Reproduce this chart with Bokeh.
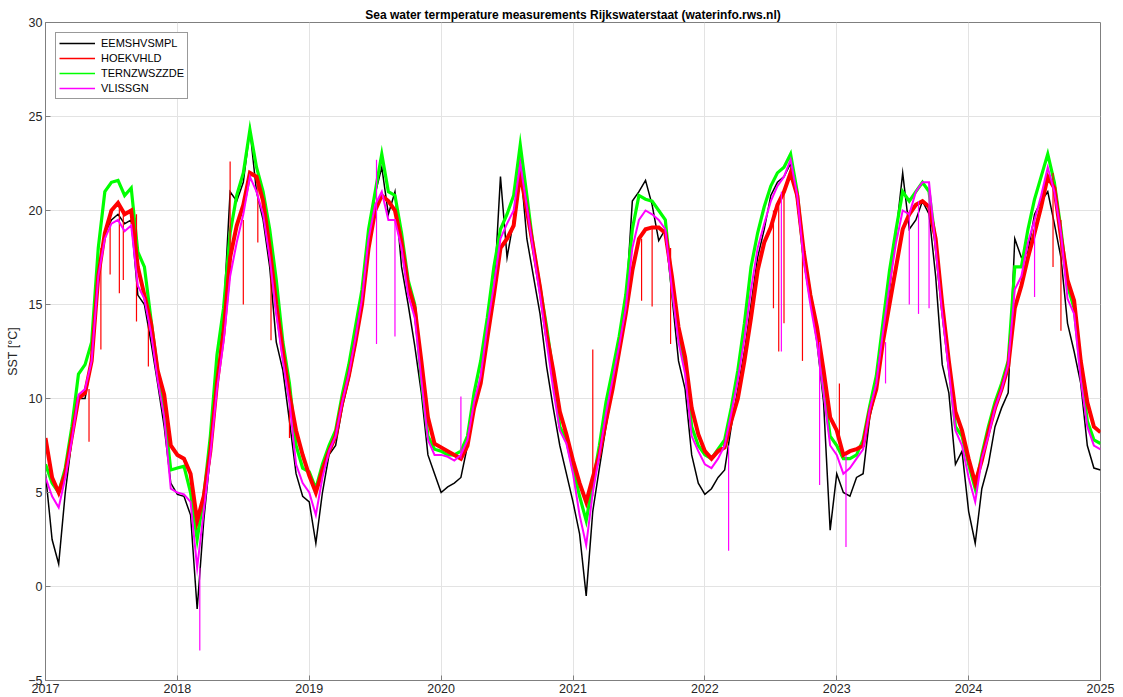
from bokeh.plotting import figure
from bokeh.models import FixedTicker, Legend, LegendItem, Range1d
from bokeh.embed import file_html
from bokeh.resources import INLINE

# ---------------- data ----------------
years = [2017, 2018, 2019, 2020, 2021, 2022, 2023, 2024]
offsets = [0.00, 0.05, 0.10, 0.15, 0.20, 0.25, 0.30, 0.35, 0.40, 0.45,
           0.50, 0.55, 0.60, 0.65, 0.70, 0.75, 0.80, 0.85, 0.90, 0.95]
t_end = 2025.0

eemshvsmpl = [
    6.0, 2.5, 1.2, 5.0, 7.8, 10.0, 10.0, 12.0, 16.5, 18.8, 19.5, 19.8, 19.3, 19.5, 15.5, 15.0, 13.0, 10.8, 8.5, 5.5,
    4.9, 4.8, 3.8, -1.2, 3.5, 7.0, 10.5, 14.5, 21.0, 20.5, 21.5, 24.3, 21.0, 19.5, 17.0, 13.0, 11.5, 8.8, 6.0, 4.8,
    4.5, 2.3, 5.0, 7.0, 7.5, 9.5, 11.0, 12.8, 15.0, 18.5, 20.9, 22.3, 19.8, 21.0, 17.0, 15.0, 12.8, 10.3, 7.0, 6.0,
    5.0, 5.3, 5.5, 5.8, 7.5, 9.5, 10.8, 13.2, 15.5, 21.8, 17.5, 19.5, 22.5, 18.5, 16.5, 14.5, 11.7, 9.5, 7.5, 6.0,
    4.5, 2.8, -0.5, 4.0, 6.3, 8.5, 10.5, 12.5, 15.0, 20.5, 21.0, 21.6, 20.3, 18.4, 19.0, 15.5, 12.0, 10.5, 7.0, 5.5,
    4.9, 5.2, 5.8, 6.2, 8.5, 10.5, 12.5, 15.0, 17.5, 19.0, 20.8, 21.5, 21.8, 22.5, 20.5, 17.5, 15.3, 13.0, 9.8, 3.0,
    6.0, 5.0, 4.8, 5.8, 6.0, 9.0, 10.5, 13.0, 15.8, 18.8, 22.0, 19.0, 19.5, 20.5, 19.8, 16.5, 11.8, 10.3, 6.5, 7.2,
    4.0, 2.3, 5.2, 6.5, 8.5, 9.5, 10.3, 18.5, 17.5, 17.8, 19.8, 20.5, 21.0, 19.3, 17.5, 14.0, 12.5, 10.8, 7.5, 6.3,
    6.2]

hoekvhld = [
    7.9, 5.8, 5.0, 6.0, 8.0, 10.0, 10.3, 12.0, 16.5, 18.8, 20.0, 20.4, 19.8, 20.0, 17.0, 15.5, 14.0, 11.5, 10.2, 7.5,
    7.0, 6.8, 6.0, 3.5, 4.8, 7.2, 10.8, 13.5, 17.5, 19.2, 20.3, 22.0, 21.8, 20.5, 18.0, 15.0, 12.5, 10.2, 8.3, 7.0,
    5.9, 5.0, 6.2, 7.2, 8.0, 9.8, 11.2, 13.0, 15.0, 18.0, 20.0, 20.8, 20.5, 20.0, 18.3, 16.0, 14.8, 12.0, 9.0, 7.6,
    7.4, 7.2, 7.0, 6.8, 7.5, 9.5, 10.8, 13.2, 15.5, 18.0, 18.5, 19.2, 22.0, 20.0, 18.0, 15.9, 13.4, 11.5, 9.3, 8.1,
    6.7, 5.5, 4.5, 5.8, 7.0, 8.8, 10.5, 12.5, 14.5, 16.8, 18.5, 19.0, 19.1, 19.1, 18.8, 16.5, 13.8, 12.2, 9.5, 8.1,
    7.2, 6.8, 7.2, 7.4, 8.8, 10.0, 12.0, 14.3, 16.8, 18.3, 19.1, 20.3, 21.0, 22.0, 20.8, 17.8, 15.5, 13.8, 11.5, 9.0,
    8.3, 7.0, 7.2, 7.3, 7.5, 9.3, 10.5, 13.0, 15.0, 17.0, 19.0, 19.8, 20.3, 20.5, 20.2, 18.5, 15.0, 12.0, 9.3, 8.3,
    6.8, 5.5, 6.7, 8.2, 9.5, 10.5, 11.7, 14.8, 16.0, 17.5, 18.8, 20.2, 21.8, 21.2, 18.6, 16.3, 15.2, 12.0, 9.8, 8.5,
    8.2]

ternzwszzde = [
    6.5, 5.5, 5.0, 6.3, 8.5, 11.3, 11.8, 13.0, 18.0, 21.0, 21.5, 21.6, 20.8, 21.2, 17.8, 17.0, 14.2, 11.5, 9.3, 6.2,
    6.3, 6.4, 5.0, 2.5, 4.8, 8.0, 12.3, 14.8, 18.8, 20.8, 22.0, 24.3, 22.3, 21.0, 19.0, 16.3, 13.0, 10.8, 7.5, 6.3,
    6.1, 5.2, 6.5, 7.5, 8.3, 10.2, 11.8, 13.8, 15.8, 19.0, 21.0, 23.0, 21.0, 20.8, 18.8, 16.3, 15.0, 11.0, 8.0, 7.3,
    7.2, 7.0, 7.0, 7.2, 8.0, 10.3, 12.0, 14.3, 17.0, 19.0, 19.8, 20.8, 23.5, 20.8, 18.0, 15.9, 13.8, 11.3, 8.5, 7.8,
    6.3, 4.8, 3.5, 5.5, 7.5, 9.8, 11.5, 13.3, 15.5, 19.0, 20.8, 20.6, 20.5, 20.0, 19.5, 16.0, 13.5, 11.8, 8.5, 7.5,
    7.0, 6.8, 7.3, 7.8, 9.5, 11.5, 14.0, 17.0, 18.8, 20.2, 21.3, 22.0, 22.3, 23.0, 21.0, 17.5, 15.5, 13.5, 10.5, 8.0,
    7.5, 6.8, 6.8, 7.0, 7.8, 9.6, 11.2, 14.0, 16.8, 19.0, 21.0, 20.5, 21.0, 21.5, 21.0, 18.3, 14.8, 11.8, 8.5, 8.0,
    6.5, 5.2, 7.0, 8.5, 9.8, 10.8, 12.0, 17.0, 17.0, 19.0, 20.6, 21.8, 23.0, 21.5, 19.0, 16.0, 14.8, 11.5, 8.8, 7.8,
    7.6]

vlissgn = [
    5.8, 4.8, 4.2, 5.8, 7.8, 10.2, 10.5, 12.0, 16.5, 18.5, 19.3, 19.5, 18.9, 19.2, 16.0, 15.3, 13.5, 11.0, 9.0, 5.2,
    5.0, 4.9, 4.5, 1.0, 4.0, 7.0, 10.5, 13.0, 16.5, 18.3, 19.8, 21.8, 21.0, 19.8, 17.5, 14.5, 12.0, 9.8, 6.5, 5.5,
    5.0, 3.8, 5.8, 7.2, 8.0, 9.8, 11.3, 13.2, 15.3, 18.5, 20.3, 21.0, 19.5, 19.5, 18.0, 15.5, 14.3, 11.0, 7.8, 7.0,
    7.0, 6.9, 6.7, 7.0, 7.8, 9.8, 11.2, 13.8, 16.0, 18.5, 19.3, 20.0, 22.5, 20.2, 17.8, 15.5, 13.0, 10.5, 8.3, 7.6,
    6.0, 3.8, 2.2, 5.0, 7.0, 9.2, 11.0, 12.8, 14.8, 18.0, 19.5, 20.0, 19.8, 19.5, 19.0, 15.8, 13.0, 11.3, 8.0, 7.2,
    6.5, 6.3, 6.8, 7.5, 9.2, 11.0, 13.2, 15.8, 18.0, 19.3, 20.5, 21.3, 21.8, 22.7, 20.8, 17.3, 15.0, 13.0, 10.3, 7.5,
    7.0, 6.0, 6.3, 6.8, 7.3, 9.4, 10.8, 13.5, 16.0, 18.3, 20.0, 19.8, 21.0, 21.5, 21.5, 18.0, 14.5, 11.5, 8.3, 7.5,
    5.8, 4.5, 6.8, 8.0, 9.5, 10.5, 11.8, 15.8, 16.5, 18.3, 19.5, 20.8, 22.3, 21.0, 18.8, 15.3, 14.5, 11.0, 8.5, 7.5,
    7.3]

# short outlier spikes (time, top, bottom)
red_spike_t = [2017.33, 2017.42, 2017.49, 2017.56, 2017.59, 2017.69, 2017.78, 2018.40, 2018.50, 2018.61,
               2018.71, 2018.85, 2021.15, 2021.52, 2021.60, 2021.74, 2022.52, 2022.56, 2022.60, 2022.74,
               2023.02, 2024.64, 2024.70]
red_spike_top = [10.5, 18.0, 20.0, 20.3, 20.0, 19.8, 14.0, 22.6, 19.5, 21.5,
                 17.5, 10.0, 12.6, 18.5, 19.1, 18.0, 20.0, 20.5, 21.0, 18.5,
                 10.8, 22.0, 19.5]
red_spike_bot = [7.7, 12.6, 16.6, 15.6, 16.3, 14.1, 11.7, 17.5, 15.0, 18.3,
                 13.1, 7.9, 4.8, 15.2, 14.9, 12.9, 14.8, 12.5, 14.0, 12.0,
                 8.0, 17.0, 13.6]
mag_spike_t = [2018.17, 2019.51, 2019.65, 2020.15, 2022.18, 2022.58, 2022.87, 2023.07, 2023.37,
               2023.55, 2023.62, 2023.70, 2024.50]
mag_spike_top = [1.0, 22.7, 19.5, 10.1, 7.5, 21.0, 13.0, 7.0, 13.0, 19.8, 20.5, 21.5, 19.5]
mag_spike_bot = [-3.4, 12.9, 13.3, 6.8, 1.9, 12.5, 5.4, 2.1, 10.8, 15.0, 14.5, 14.8, 15.4]

series_names = ["EEMSHVSMPL", "HOEKVHLD", "TERNZWSZZDE", "VLISSGN"]
series_colors = ["#000000", "#ff0000", "#00ff00", "#ff00ff"]
x_ticks = [2017, 2018, 2019, 2020, 2021, 2022, 2023, 2024, 2025]
y_ticks = [-5, 0, 5, 10, 15, 20, 25, 30]

t = [y + f for y in years for f in offsets] + [t_end]

# ---------------- figure ----------------
p = figure(width=1123, height=697, output_backend="svg", toolbar_location=None,
           x_range=Range1d(2017, 2025), y_range=Range1d(-5, 30),
           min_border_left=45, min_border_right=23, min_border_top=22, min_border_bottom=17)
p.background_fill_color = "white"
p.border_fill_color = "white"
p.outline_line_color = "#7f7f7f"
p.outline_line_width = 1

p.title.text = "Sea water termperature measurements Rijkswaterstaat (waterinfo.rws.nl)"
p.title.align = "center"
p.title.text_font = "Liberation Sans"
p.title.text_font_size = "12px"
p.title.text_font_style = "bold"
p.title.text_color = "#000000"
p.title.standoff = 2
p.title.offset = 0

font = "Liberation Sans"
for ax in (p.xaxis[0], p.yaxis[0]):
    ax.major_tick_in = 5
    ax.major_tick_out = 0
    ax.minor_tick_in = 0
    ax.minor_tick_out = 0
    ax.axis_line_color = "#7f7f7f"
    ax.major_tick_line_color = "#7f7f7f"
    ax.major_label_text_font = font
    ax.major_label_text_font_size = "12.5px"
    ax.major_label_text_color = "#262626"
    ax.major_label_standoff = 3
p.xaxis.ticker = FixedTicker(ticks=x_ticks)
p.yaxis.ticker = FixedTicker(ticks=y_ticks)
p.yaxis.axis_label = "SST [°C]"
p.yaxis.axis_label_text_font = font
p.yaxis.axis_label_text_font_size = "12.5px"
p.yaxis.axis_label_text_font_style = "normal"
p.yaxis.axis_label_text_color = "#262626"
p.yaxis.axis_label_standoff = 5

p.xgrid.ticker = FixedTicker(ticks=x_ticks)
p.ygrid.ticker = FixedTicker(ticks=y_ticks)
p.grid.grid_line_color = "#e3e3e3"
p.grid.grid_line_width = 1

# ---------------- data lines ----------------
widths = [1.5, 4.0, 3.2, 2.0]
data = [eemshvsmpl, hoekvhld, ternzwszzde, vlissgn]
order = [0, 2, 1, 3]
for i in order:
    p.line(t, data[i], line_color=series_colors[i], line_width=widths[i], line_join="miter")
    if i == 1:
        p.segment(red_spike_t, red_spike_top, red_spike_t, red_spike_bot,
                  line_color=series_colors[1], line_width=1.2)
    if i == 3:
        p.segment(mag_spike_t, mag_spike_top, mag_spike_t, mag_spike_bot,
                  line_color=series_colors[3], line_width=1.2)

# legend with thin sample lines (proxy renderers placed outside the visible range)
items = []
for name, col in zip(series_names, series_colors):
    r = p.line([2000, 2001], [100, 100], line_color=col, line_width=1.4)
    items.append(LegendItem(label=name, renderers=[r]))
legend = Legend(items=items, location="top_left", margin=10,
                label_text_font=font, label_text_font_size="11px", label_text_color="#000000",
                glyph_width=36, glyph_height=14, label_height=14, spacing=1,
                padding=3, label_standoff=6,
                border_line_color="#333333", border_line_width=1,
                background_fill_color="white", background_fill_alpha=1)
p.add_layout(legend)

open("out.html", "w").write(file_html(p, INLINE))
